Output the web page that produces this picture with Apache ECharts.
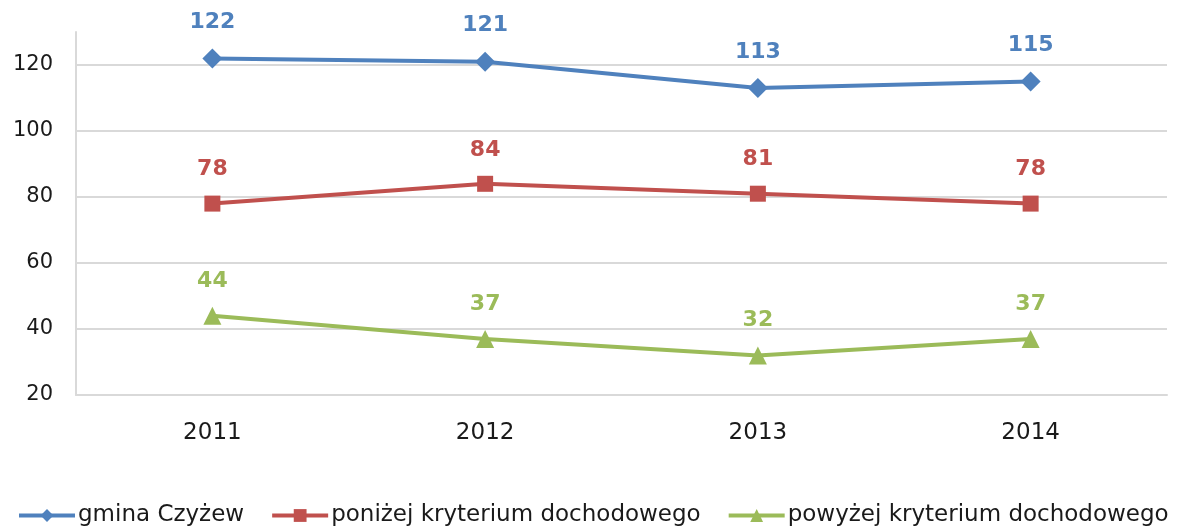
<!DOCTYPE html>
<html>
<head>
<meta charset="utf-8">
<script src="https://cdn.jsdelivr.net/npm/echarts@6/dist/echarts.min.js"></script>
<style>
  html, body { margin: 0; padding: 0; background: #fff; }
  #chart { width: 1178px; height: 527px; }
</style>
</head>
<body>
<div id="chart"></div>
<script>
const years = ['2011', '2012', '2013', '2014']
const gmina = [122, 121, 113, 115]
const ponizej = [78, 84, 81, 78]
const powyzej = [44, 37, 32, 37]

const font = '"DejaVu Sans", sans-serif'
const grid = '#d9d9d9'

function lineSeries(name, data, color, symbol, size) {
  return {
    name: name,
    type: 'line',
    data: data,
    symbol: symbol,
    symbolSize: size,
    lineStyle: { color: color, width: 4 },
    itemStyle: { color: color },
    label: {
      show: true,
      position: 'top',
      distance: 15,
      color: color,
      fontFamily: font,
      fontWeight: 'bold',
      fontSize: 22,
    },
  }
}

const chart = echarts.init(document.getElementById('chart'))
chart.setOption({
  animation: false,
  grid: { left: 76, right: 11, top: 32, bottom: 132 },
  legend: {
    bottom: -5,
    left: 12,
    itemGap: 26,
    itemWidth: 56,
    itemHeight: 16,
    lineStyle: { width: 4 },
    textStyle: { fontFamily: font, fontSize: 23, color: '#1a1a1a', padding: [0, 0, 0, -2] },
  },
  xAxis: {
    type: 'category',
    data: years,
    axisTick: { show: false },
    axisLine: { lineStyle: { color: grid, width: 2 } },
    axisLabel: { color: '#1a1a1a', fontFamily: font, fontSize: 23, margin: 27 },
  },
  yAxis: {
    type: 'value',
    min: 20,
    max: 130,
    interval: 20,
    axisLine: { show: true, lineStyle: { color: grid, width: 2 } },
    axisTick: { show: false },
    axisLabel: { color: '#1a1a1a', fontFamily: font, fontSize: 21, margin: 23, showMaxLabel: false },
    splitLine: {
      lineStyle: {
        width: 2,
        color: [grid, grid, grid, grid, grid, grid, 'rgba(0,0,0,0)'],
      },
    },
  },
  series: [
    lineSeries('gmina Czyżew', gmina, '#4f81bd', 'diamond', 20),
    lineSeries('poniżej kryterium dochodowego', ponizej, '#c0504d', 'rect', 16),
    lineSeries('powyżej kryterium dochodowego', powyzej, '#9bbb59', 'triangle', 18),
  ],
})
</script>
</body>
</html>
